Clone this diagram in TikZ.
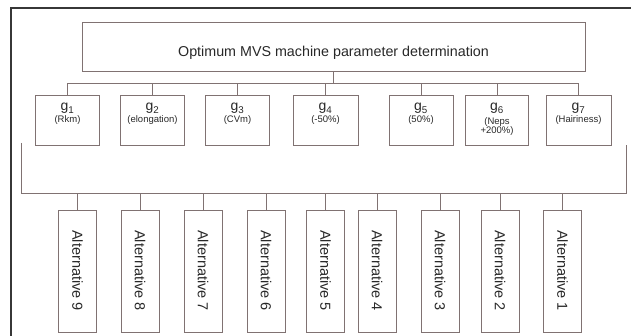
\documentclass[tikz,border=0pt]{standalone}
\usepackage{fontspec}
\setmainfont{Liberation Sans}
\definecolor{ln}{RGB}{128,114,114}
\definecolor{fr}{RGB}{55,55,55}
\definecolor{tx}{RGB}{40,40,40}
\begin{document}
\begin{tikzpicture}[x=1pt,y=-1pt,
  box/.style={draw=ln, line width=0.9pt, inner sep=0pt},
  gbox/.style={box, minimum width=64pt, minimum height=50pt},
  altbox/.style={box, minimum width=38pt, minimum height=122pt},
  conn/.style={draw=ln, line width=0.9pt},
  gsym/.style={text=tx, anchor=base, inner sep=0pt, font=\fontsize{14}{16}\selectfont},
  glab/.style={text=tx, anchor=base, inner sep=0pt, font=\fontsize{9.5}{11}\selectfont},
  alttext/.style={text=tx, rotate=-90, inner sep=0pt, font=\fontsize{14.5}{16}\selectfont}]
\useasboundingbox (0,0) rectangle (631,336);
% outer frame
\coordinate (fa) at (11,336);
\coordinate (fb) at (11,8);
\coordinate (fc) at (631,8);
\draw[fr, line width=1.2pt] (fa) -- (fb) -- (fc);
% title
\node[box, minimum width=503pt, minimum height=49pt] (top) at (333.5,46.5) {};
\node[text=tx, anchor=base, inner sep=0pt, font=\fontsize{14.3}{16}\selectfont] (title) at (333.5,57) {Optimum MVS machine parameter determination};
% g boxes
\foreach \i/\x/\w in {1/67.5/64,2/152.5/64,3/237.5/64,4/325.5/65,5/421/64,6/497/63,7/578.5/65}{
  \node[gbox, minimum width=\w pt] (g\i) at (\x,120) {};
  \node[gsym] (g\i s) at (\x,111) {g\textsubscript{\i}};
}
\node[glab] (g1l) at (67.5,123) {(Rkm)};
\node[glab] (g2l) at (152.5,123) {(elongation)};
\node[glab] (g3l) at (237.5,123) {(CVm)};
\node[glab] (g4l) at (325.5,123) {(-50\%)};
\node[glab] (g5l) at (421,123) {(50\%)};
\node[glab] (g6l) at (497,124.5) {(Neps};
\node[glab] (g6m) at (497,133.5) {+200\%)};
\node[glab] (g7l) at (578.5,123) {(Hairiness)};
% upper bus
\coordinate (bus) at (333.5,83);
\draw[conn] (top.south) -- (bus);
\draw[conn] (g1.north |- bus) -- (g7.north |- bus);
\foreach \i in {1,...,7}{\draw[conn] (g\i.north) -- (g\i.north |- bus);}
% bracket
\coordinate (bl) at (21,143);
\coordinate (br) at (626,145);
\coordinate (bb) at (21,193);
\draw[conn] (bl) -- (bb) -- (br |- bb) -- (br);
% alternatives
\foreach \i/\x in {9/77.5,8/140,7/203,6/266,5/325.5,4/377,3/440,2/500,1/562.5}{
  \node[altbox] (a\i) at (\x,271) {};
  \node[alttext] (a\i t) at (\x,270.5) {Alternative \i};
  \draw[conn] (a\i.north) -- (a\i.north |- bb);
}
\end{tikzpicture}
\end{document}
